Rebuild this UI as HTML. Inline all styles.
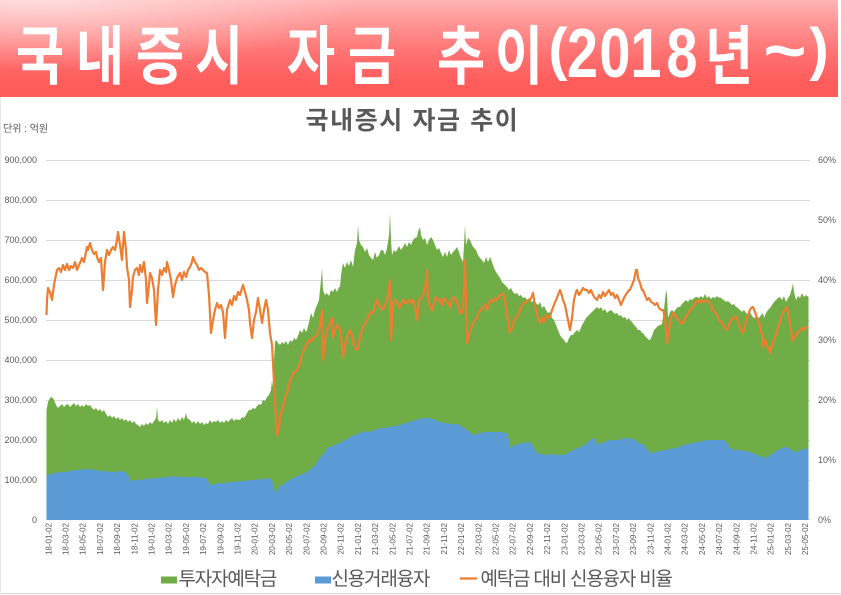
<!DOCTYPE html>
<html>
<head>
<meta charset="utf-8">
<style>
html,body{margin:0;padding:0;width:841px;height:595px;overflow:hidden;background:#fff;}
.banner{position:absolute;left:0;top:0;width:838px;height:97px;
background:radial-gradient(ellipse 320px 70px at 40px 0px, rgba(255,255,255,0.55), rgba(255,255,255,0)),
linear-gradient(180deg,#ffb4b4 0%,#ff9090 28%,#ff7272 55%,#ff5c5c 85%,#ff5a5a 100%);}
svg{position:absolute;left:0;top:0;}
</style>
</head>
<body>
<div class="banner"></div>
<svg width="841" height="595" viewBox="0 0 841 595" xmlns="http://www.w3.org/2000/svg">
<g fill="#ffffff" font-family="'Liberation Sans','Noto Sans CJK KR',sans-serif" font-weight="bold" text-anchor="middle">
<g font-size="64">
<text transform="translate(40,79) scale(0.82,1)">국</text>
<text transform="translate(100,79) scale(0.82,1)">내</text>
<text transform="translate(160,79) scale(0.82,1)">증</text>
<text transform="translate(219,79) scale(0.82,1)">시</text>
<text transform="translate(311,79) scale(0.82,1)">자</text>
<text transform="translate(372,79) scale(0.82,1)">금</text>
<text transform="translate(461,79) scale(0.82,1)">추</text>
<text transform="translate(519,79) scale(0.82,1)">이</text>
<text transform="translate(729,79) scale(0.82,1)">년</text>
</g>
<g font-size="70">
<text transform="translate(582.5,77) scale(0.8,1)">2</text>
<text transform="translate(615,77) scale(0.8,1)">0</text>
<text transform="translate(646,77) scale(0.8,1)">1</text>
<text transform="translate(682,77) scale(0.8,1)">8</text>
<text transform="translate(785,74) scale(1.05,1)">~</text>
</g>
<g font-size="58">
<text x="558" y="69">(</text>
<text x="819" y="69">)</text>
</g>
</g>

<line x1="0" y1="593.5" x2="841" y2="593.5" stroke="#d9d9d9" stroke-width="1"/>
<line x1="0.5" y1="97" x2="0.5" y2="594" stroke="#e8e8e8" stroke-width="1"/>

<text x="305.5" y="129" font-family="'Liberation Sans','Noto Sans CJK KR',sans-serif" font-size="25" font-weight="bold" letter-spacing="1.6" fill="#595959">국내증시 자금 추이</text>
<text x="3" y="132" font-family="'Liberation Sans','Noto Sans CJK KR',sans-serif" font-size="10" fill="#595959">단위 : 억원</text>

<g stroke="#d9d9d9" stroke-width="1">
<line x1="46" y1="160.5" x2="810" y2="160.5"/>
<line x1="46" y1="200.5" x2="810" y2="200.5"/>
<line x1="46" y1="240.5" x2="810" y2="240.5"/>
<line x1="46" y1="280.5" x2="810" y2="280.5"/>
<line x1="46" y1="320.5" x2="810" y2="320.5"/>
<line x1="46" y1="360.5" x2="810" y2="360.5"/>
<line x1="46" y1="400.5" x2="810" y2="400.5"/>
<line x1="46" y1="440.5" x2="810" y2="440.5"/>
<line x1="46" y1="480.5" x2="810" y2="480.5"/>
<line x1="46" y1="519.5" x2="810" y2="519.5"/>
</g>

<g font-family="'Liberation Sans',sans-serif" font-size="9" fill="#595959" text-anchor="end">
<text x="37" y="163">900,000</text>
<text x="37" y="203">800,000</text>
<text x="37" y="243">700,000</text>
<text x="37" y="283">600,000</text>
<text x="37" y="323">500,000</text>
<text x="37" y="363">400,000</text>
<text x="37" y="403">300,000</text>
<text x="37" y="443">200,000</text>
<text x="37" y="483">100,000</text>
<text x="37" y="523">0</text>
</g>
<g font-family="'Liberation Sans',sans-serif" font-size="9" fill="#595959">
<text x="818" y="163">60%</text>
<text x="818" y="223">50%</text>
<text x="818" y="283">40%</text>
<text x="818" y="343">30%</text>
<text x="818" y="403">20%</text>
<text x="818" y="463">10%</text>
<text x="818" y="523">0%</text>
</g>

<polygon fill="#70ad47" points="46.5,410 48,402 50,398 52,397 54,400 56,405 58,408 60,406 62,404 64,407 66,405 68,404 70,407 72,405 74,403 76,406 78,404 80,407 82,405 84,407 86,404 88,406 90,405 92,408 94,410 96,408 98,411 100,409 102,412 104,410 106,414 108,417 110,415 112,418 114,416 116,419 118,417 120,420 122,418 124,421 126,419 128,422 130,420 132,423 134,421 136,424 138,425 140,427 142,424 144,426 146,423 148,425 150,422 152,424 154,421 156,418 157,407 158,420 160,422 162,420 164,423 166,421 168,424 170,420 172,423 174,419 176,422 178,418 180,421 182,417 184,420 186,413 187,418 190,420 192,423 194,421 196,424 198,421 200,424 202,422 204,425 206,423 208,424 210,420 212,423 214,421 216,422 218,420 220,423 222,421 224,423 226,420 228,422 230,420 232,418 234,421 236,419 238,420 240,420 242,417 244,418 246,415 247,413 249,410 251,410 253,408 255,409 257,406 259,404 261,405 263,400 265,401 267,397 269,395 271,390 272,380 273,387 274,360 275,342 276,340 278,343 280,345 282,342 284,344 286,341 288,345 290,340 292,342 294,338 296,340 298,336 300,330 302,333 304,328 306,332 307,330 309,322 311,313 313,318 315,310 317,305 319,300 320,290 321,280 322,268 323,290 325,295 327,293 329,296 331,290 333,292 335,288 337,292 339,287 340,287 341,275 343,263 345,268 347,262 349,266 351,260 353,267 355,250 357,243 358,225 359,240 361,245 363,247 365,252 367,248 369,255 371,258 373,260 375,252 377,258 379,255 381,250 383,250 385,255 387,248 389,235 390,213 391,240 392,255 394,250 396,252 397,250 399,246 401,250 403,247 405,243 407,247 409,242 411,245 413,240 415,238 417,237 418,232 420,227 421,235 423,240 425,238 427,245 429,240 431,237 433,240 435,245 437,250 439,248 441,253 443,257 445,252 447,257 449,250 451,255 453,252 455,250 457,247 459,252 461,258 463,262 464,245 465,225 466,245 468,238 470,240 472,245 474,248 476,250 478,255 480,258 482,260 484,263 486,257 488,262 490,257 492,262 494,268 496,272 498,275 500,278 502,282 503,283 505,285 507,287 509,290 511,288 513,292 515,294 517,293 519,296 521,295 523,298 525,297 527,300 529,298 530,300 532,302 534,300 536,303 538,305 540,302 542,308 544,306 546,310 548,313 550,312 552,318 554,320 556,325 558,330 560,335 562,338 564,340 566,343 567,343 569,338 571,335 573,335 575,332 577,330 579,332 580,330 582,325 584,322 586,318 588,316 590,314 592,312 594,310 596,308 597,307 599,309 601,307 603,311 605,309 607,313 609,311 611,310 613,312 615,314 617,313 619,316 621,315 623,318 625,317 627,320 629,318 630,320 632,322 634,325 636,327 638,330 640,330 642,333 643,333 645,336 647,338 649,340 650,340 652,336 654,330 656,328 658,326 660,325 662,324 664,310 666,290 667,295 668,318 670,312 672,310 674,312 676,309 678,307 680,307 682,304 684,302 686,300 688,302 690,299 692,300 694,298 696,297 697,297 699,298 701,296 703,298 705,294 707,298 709,296 711,299 713,297 715,298 717,296 719,298 720,297 722,299 724,300 726,302 728,301 730,303 732,305 734,304 736,307 738,308 740,310 742,312 744,310 746,313 748,315 750,312 752,316 754,318 756,317 757,317 759,318 761,315 763,313 764,318 766,313 768,310 770,308 772,305 774,302 776,300 778,298 780,297 782,300 784,296 786,302 788,298 790,295 792,288 793,283 794,292 796,300 798,296 800,298 802,293 804,297 806,295 808.5,297 808.5,520 46.5,520"/>

<polygon fill="#5b9bd5" points="46.5,476 50,474 55,473 60,472 65,472 70,471 75,470 80,470 85,469 90,469 95,470 100,471 105,471 110,472 115,472 120,471 125,472 128,474 130,481 135,480 140,480 145,479 150,479 155,478 160,478 165,477 170,477 173,476 178,477 183,477 188,477 193,477 198,477 203,478 207,478 210,485 215,484 220,483 225,483 230,482 235,482 240,481 245,481 250,480 255,480 260,479 265,479 270,478 272,480 274,488 275,493 277,490 280,486 285,483 290,480 295,477 300,475 305,473 307,472 310,470 315,465 320,458 325,452 327,448 330,447 335,445 340,443 345,440 350,437 355,435 360,433 365,431 370,432 375,430 380,428 385,428 390,427 395,426 400,425 405,423 410,422 415,420 420,419 425,418 430,418 435,420 440,422 445,423 450,424 455,424 460,425 463,427 467,430 470,432 473,435 477,434 480,433 485,432 490,432 495,432 500,432 505,433 507,433 509,440 510,448 513,446 518,444 523,443 528,442 530,442 533,446 537,453 542,454 547,455 552,454 557,455 563,455 568,453 573,450 578,448 583,446 588,442 593,438 596,440 597,445 602,443 607,441 612,440 617,440 622,439 627,438 630,438 635,440 640,443 645,446 648,450 650,453 655,452 660,451 665,450 670,449 675,448 680,447 683,445 688,444 693,443 698,442 703,441 708,440 713,440 718,440 723,440 727,442 730,448 735,450 740,450 745,451 750,452 755,454 760,456 763,457 767,458 770,455 775,452 780,449 785,447 787,447 790,449 795,452 797,452 800,450 805,449 808.5,448 808.5,520 46.5,520"/>

<polyline fill="none" stroke="#ed7d31" stroke-width="2.2" stroke-linejoin="round" points="46.5,315 47,300 48,288 50,292 52,300 54,285 57,270 59,268 61,272 63,265 65,270 67,264 69,270 71,266 73,268 75,262 77,270 79,265 80,263 82,258 84,262 86,252 87,247 88,250 90,243 92,250 94,254 96,252 97,257 99,262 101,258 103,290 105,262 107,250 109,255 111,250 113,247 115,250 117,240 118,232 120,245 122,260 123,245 124,232 126,250 127,267 129,280 130,307 132,290 133,277 135,270 137,268 139,275 140,265 142,272 144,262 146,280 147,303 149,285 150,273 152,278 154,290 156,325 158,290 160,270 162,275 164,268 166,272 167,262 169,270 171,280 173,297 175,285 177,278 180,273 182,280 184,272 186,277 188,270 190,267 192,262 193,257 195,262 197,265 199,270 201,268 203,270 205,272 207,273 209,295 211,333 213,320 215,310 217,303 219,308 221,305 223,312 225,338 227,310 230,300 232,305 234,296 236,300 238,292 240,295 242,288 243,285 245,292 247,300 249,310 250,323 252,338 254,320 256,312 258,298 260,310 262,323 264,310 266,300 268,310 270,333 272,345 273,363 275,400 277,435 279,428 280,417 282,410 283,407 285,398 287,393 289,385 290,380 292,377 293,373 295,372 297,370 299,366 300,363 302,355 304,350 306,345 307,343 309,340 311,342 313,338 315,337 317,335 319,330 321,320 322,310 323,360 325,340 327,330 329,325 330,323 332,318 333,337 335,330 337,325 340,330 342,345 343,357 345,345 347,338 350,330 352,335 354,345 356,350 358,348 360,338 362,330 364,325 367,320 369,315 371,312 373,313 375,305 377,300 379,305 381,308 383,310 385,305 387,300 389,290 390,280 391,340 393,303 395,300 397,303 399,308 401,305 403,300 405,303 407,303 409,300 411,303 413,300 415,305 417,320 419,300 421,298 423,295 425,290 427,270 428,300 430,307 432,310 434,303 436,297 438,300 440,300 442,305 444,298 446,300 448,303 450,307 452,300 454,297 456,300 458,305 460,313 462,310 463,313 465,260 466,300 467,343 469,335 471,328 473,323 475,320 477,318 479,312 481,310 483,307 485,305 487,310 489,303 491,300 493,302 495,298 497,300 499,296 501,295 503,293 505,300 507,315 509,328 510,333 512,328 514,320 516,318 518,315 520,310 522,305 524,303 526,302 528,300 530,300 532,296 533,293 535,305 537,315 539,320 540,323 542,318 544,322 546,315 548,318 550,317 552,310 554,305 556,300 558,295 560,290 562,296 563,300 565,305 567,315 569,325 570,330 572,318 574,300 576,292 577,290 579,295 581,292 583,288 585,290 587,290 589,293 591,290 593,295 595,298 597,300 599,295 601,298 603,292 605,296 607,293 609,290 611,295 613,293 615,298 617,295 619,300 621,305 623,300 625,296 627,293 629,290 630,290 632,285 634,280 636,270 637,270 638,278 640,283 642,290 643,290 645,295 647,300 649,298 651,302 653,303 655,305 657,303 659,308 661,310 663,310 665,318 667,343 669,330 671,318 673,313 675,315 677,318 679,320 681,323 683,323 685,318 687,315 689,312 690,310 692,308 694,305 696,302 698,300 700,303 702,300 704,302 706,300 707,300 709,302 711,305 713,310 715,312 717,315 719,320 721,322 723,325 725,328 727,330 729,325 731,320 733,318 735,317 737,317 739,325 741,330 743,333 745,325 747,318 749,312 751,308 753,307 755,312 757,318 759,322 760,327 762,335 763,347 765,340 767,345 769,350 770,353 772,345 774,340 776,335 777,330 779,325 781,318 783,312 785,310 787,307 789,318 791,330 793,340 795,337 797,333 799,332 800,330 802,328 804,330 806,327 808.5,327"/>

<g font-family="'Liberation Sans',sans-serif" font-size="8" fill="#595959" text-anchor="end">
<text transform="rotate(-90 48.3 523)" x="48.3" y="523" dy="3">18-01-02</text>
<text transform="rotate(-90 65.5 523)" x="65.5" y="523" dy="3">18-03-02</text>
<text transform="rotate(-90 82.7 523)" x="82.7" y="523" dy="3">18-05-02</text>
<text transform="rotate(-90 99.9 523)" x="99.9" y="523" dy="3">18-07-02</text>
<text transform="rotate(-90 117.1 523)" x="117.1" y="523" dy="3">18-09-02</text>
<text transform="rotate(-90 134.3 523)" x="134.3" y="523" dy="3">18-11-02</text>
<text transform="rotate(-90 151.5 523)" x="151.5" y="523" dy="3">19-01-02</text>
<text transform="rotate(-90 168.7 523)" x="168.7" y="523" dy="3">19-03-02</text>
<text transform="rotate(-90 185.9 523)" x="185.9" y="523" dy="3">19-05-02</text>
<text transform="rotate(-90 203.1 523)" x="203.1" y="523" dy="3">19-07-02</text>
<text transform="rotate(-90 220.3 523)" x="220.3" y="523" dy="3">19-09-02</text>
<text transform="rotate(-90 237.5 523)" x="237.5" y="523" dy="3">19-11-02</text>
<text transform="rotate(-90 254.7 523)" x="254.7" y="523" dy="3">20-01-02</text>
<text transform="rotate(-90 271.9 523)" x="271.9" y="523" dy="3">20-03-02</text>
<text transform="rotate(-90 289.1 523)" x="289.1" y="523" dy="3">20-05-02</text>
<text transform="rotate(-90 306.3 523)" x="306.3" y="523" dy="3">20-07-02</text>
<text transform="rotate(-90 323.5 523)" x="323.5" y="523" dy="3">20-09-02</text>
<text transform="rotate(-90 340.7 523)" x="340.7" y="523" dy="3">20-11-02</text>
<text transform="rotate(-90 357.9 523)" x="357.9" y="523" dy="3">21-01-02</text>
<text transform="rotate(-90 375.1 523)" x="375.1" y="523" dy="3">21-03-02</text>
<text transform="rotate(-90 392.3 523)" x="392.3" y="523" dy="3">21-05-02</text>
<text transform="rotate(-90 409.5 523)" x="409.5" y="523" dy="3">21-07-02</text>
<text transform="rotate(-90 426.7 523)" x="426.7" y="523" dy="3">21-09-02</text>
<text transform="rotate(-90 443.9 523)" x="443.9" y="523" dy="3">21-11-02</text>
<text transform="rotate(-90 461.1 523)" x="461.1" y="523" dy="3">22-01-02</text>
<text transform="rotate(-90 478.3 523)" x="478.3" y="523" dy="3">22-03-02</text>
<text transform="rotate(-90 495.5 523)" x="495.5" y="523" dy="3">22-05-02</text>
<text transform="rotate(-90 512.7 523)" x="512.7" y="523" dy="3">22-07-02</text>
<text transform="rotate(-90 529.9 523)" x="529.9" y="523" dy="3">22-09-02</text>
<text transform="rotate(-90 547.1 523)" x="547.1" y="523" dy="3">22-11-02</text>
<text transform="rotate(-90 564.3 523)" x="564.3" y="523" dy="3">23-01-02</text>
<text transform="rotate(-90 581.5 523)" x="581.5" y="523" dy="3">23-03-02</text>
<text transform="rotate(-90 598.7 523)" x="598.7" y="523" dy="3">23-05-02</text>
<text transform="rotate(-90 615.9 523)" x="615.9" y="523" dy="3">23-07-02</text>
<text transform="rotate(-90 633.1 523)" x="633.1" y="523" dy="3">23-09-02</text>
<text transform="rotate(-90 650.3 523)" x="650.3" y="523" dy="3">23-11-02</text>
<text transform="rotate(-90 667.5 523)" x="667.5" y="523" dy="3">24-01-02</text>
<text transform="rotate(-90 684.7 523)" x="684.7" y="523" dy="3">24-03-02</text>
<text transform="rotate(-90 701.9 523)" x="701.9" y="523" dy="3">24-05-02</text>
<text transform="rotate(-90 719.1 523)" x="719.1" y="523" dy="3">24-07-02</text>
<text transform="rotate(-90 736.3 523)" x="736.3" y="523" dy="3">24-09-02</text>
<text transform="rotate(-90 753.5 523)" x="753.5" y="523" dy="3">24-11-02</text>
<text transform="rotate(-90 770.7 523)" x="770.7" y="523" dy="3">25-01-02</text>
<text transform="rotate(-90 787.9 523)" x="787.9" y="523" dy="3">25-03-02</text>
<text transform="rotate(-90 805.1 523)" x="805.1" y="523" dy="3">25-05-02</text>
</g>

<rect x="161" y="576.5" width="16" height="7" fill="#70ad47"/>
<rect x="315" y="576.5" width="16" height="7" fill="#5b9bd5"/>
<line x1="460" y1="578.5" x2="477" y2="578.5" stroke="#ed7d31" stroke-width="2.2"/>
<g font-family="'Liberation Sans','Noto Sans CJK KR',sans-serif" font-size="19" fill="#595959" letter-spacing="-1.2">
<text x="178.5" y="585">투자자예탁금</text>
<text x="331.5" y="585">신용거래융자</text>
<text x="480.5" y="585">예탁금 대비 신용융자 비율</text>
</g>
</svg>
</body>
</html>
